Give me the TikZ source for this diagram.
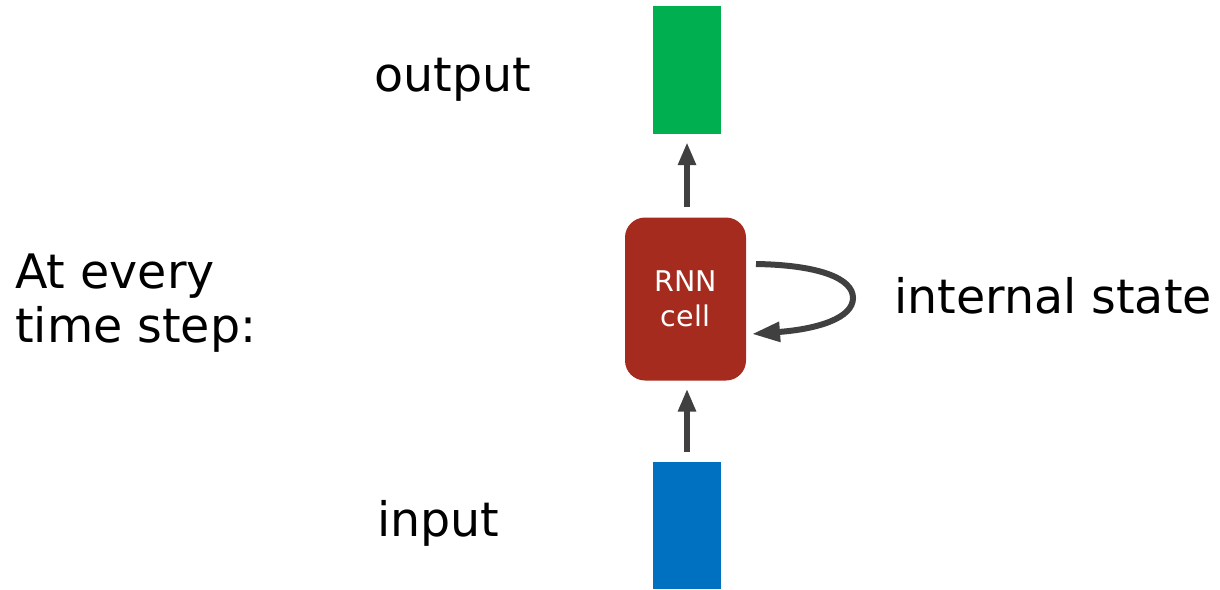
\documentclass[tikz,border=0pt]{standalone}
\usepackage{fontspec}
\setmainfont{DejaVu Sans}
\usetikzlibrary{arrows.meta}
\definecolor{outgreen}{HTML}{00B050}
\definecolor{inblue}{HTML}{0070C0}
\definecolor{cellred}{HTML}{A52B1E}
\definecolor{arrowgray}{HTML}{404040}
\tikzstyle{label} = [inner sep=0pt, font=\fontsize{47.5}{54}\selectfont]
\tikzstyle{vecbox} = [inner sep=0pt, minimum width=68pt]
\tikzstyle{flow} = [arrowgray, line width=6pt,
    -{Triangle[length=23pt, width=17pt]}]

\begin{document}
\begin{tikzpicture}[x=1pt, y=-1pt]

    \useasboundingbox (0, 0) rectangle (1220, 589);

    % vectors and the cell
    \node[vecbox, fill=outgreen, minimum height=128pt] (out) at (687, 70) {};
    \node[vecbox, fill=inblue, minimum height=127pt] (in) at (687, 525.5) {};
    \node[%
        fill=cellred, rounded corners=20pt, minimum width=121pt,
        minimum height=163pt, inner sep=0pt, text=white, align=center,
        font=\fontsize{28.5}{35}\selectfont
    ] (cell) at (685.5, 299) {RNN\\cell};

    % labels
    \node[label, anchor=base west] (outlbl) at (374, 91) {output};
    \node[label, anchor=base west] (inlbl) at (377, 536) {input};
    \node[label, anchor=base west] (statelbl) at (894, 313) {internal state};
    \node[label, anchor=north west, align=left] (steplbl) at (15, 254)
        {At every\\time step:};

    % connectors
    \draw[flow, shorten <=10pt, shorten >=8pt] (in.north) -- (in.north |- cell.south);
    \draw[flow, shorten <=10pt, shorten >=8pt] (out.south |- cell.north) -- (out.south);

    \coordinate (loopstart) at (756, 264);
    \coordinate (loopend) at (752, 334);
    \draw[flow, -{Triangle[length=28pt, width=19pt]}] (loopstart)
        .. controls (818, 265) and (853, 278) .. (853, 298)
        .. controls (853, 318) and (818, 329) .. (loopend);

\end{tikzpicture}
\end{document}
